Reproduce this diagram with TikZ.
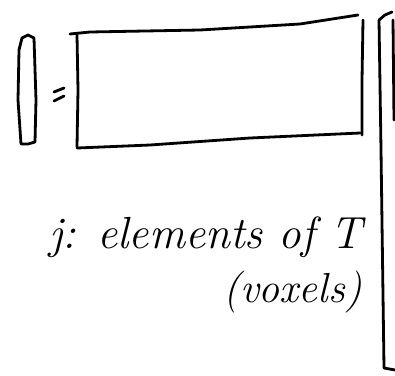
\documentclass[tikz,border=0pt]{standalone}
\usetikzlibrary{positioning}
\begin{document}
\begin{tikzpicture}[x=1pt,y=-1pt,
  ink/.style={line width=2.8pt,line cap=round,line join=round,draw=black},
  hand/.style={inner sep=0pt,anchor=base east}]
\useasboundingbox (0,0) rectangle (395,375);
% left column vector
\draw[ink] (22,38) -- (28,35) -- (34,38) -- (36,100) -- (35,142) -- (28,144) -- (21,144) -- (18,100) -- (19,50) -- cycle;
% equals sign
\coordinate (e1) at (54,92); \coordinate (e2) at (64,88);
\coordinate (e3) at (54,101); \coordinate (e4) at (64,96);
\draw[ink] (e1) -- (e2);
\draw[ink] (e3) -- (e4);
% wide matrix
\draw[ink] (70,34) -- (90,32) -- (200,30) -- (300,24) -- (358,15);
\draw[ink] (77,35) -- (78,90) -- (77,147);
\draw[ink] (77,148) -- (150,145) -- (250,138) -- (360,133);
\draw[ink] (363,20) -- (362,80) -- (362,135);
% right tall vector
\draw[ink] (379,20) -- (385,15) -- (392,12);
\draw[ink] (379,20) -- (381,150) -- (384,368) -- (395,370);
\draw[ink] (393,20) -- (394,120);
% text
\node[hand,font=\fontsize{45}{49}\selectfont\itshape] (t1) at (362,248) {j: elements of T};
\node[hand,font=\fontsize{42}{46}\selectfont\itshape] (t2) at (362,302) {(voxels)};
\end{tikzpicture}
\end{document}
